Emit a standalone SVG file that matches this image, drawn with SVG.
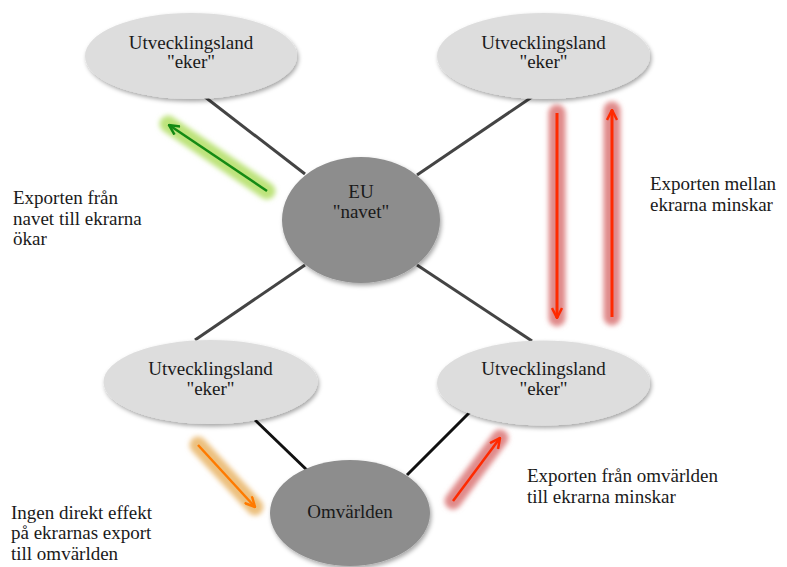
<svg xmlns="http://www.w3.org/2000/svg" width="787" height="567" viewBox="0 0 787 567">
<defs>
<style>
.t{font-family:"Liberation Serif","Times New Roman",serif;font-size:19px;fill:#1a1a1a}
.c{text-anchor:middle}
.light{fill:#dddddd;filter:url(#sh)}
.dark{fill:#8d8d8d;filter:url(#sh)}
.spoke{stroke:#444;stroke-width:3;fill:none}
.spokeb{stroke:#111;stroke-width:3;fill:none}
.glow{fill:none;stroke-width:17;stroke-linecap:round;filter:url(#bl)}
</style>
<filter id="sh" x="-20%" y="-20%" width="140%" height="150%">
<feDropShadow dx="1.5" dy="2.5" stdDeviation="2" flood-color="#000" flood-opacity="0.35"/>
</filter>
<filter id="bl" filterUnits="userSpaceOnUse" x="0" y="0" width="787" height="567">
<feGaussianBlur stdDeviation="2.5"/>
</filter>
<marker id="mg" viewBox="0 0 12 12" refX="11" refY="6" markerWidth="12" markerHeight="12" markerUnits="userSpaceOnUse" orient="auto">
<path d="M1,1 L11,6 L1,11" fill="none" stroke="#148a14" stroke-width="2.5"/>
</marker>
<marker id="mr" viewBox="0 0 12 12" refX="11" refY="6" markerWidth="12" markerHeight="12" markerUnits="userSpaceOnUse" orient="auto">
<path d="M1,1 L11,6 L1,11" fill="none" stroke="#ff2a00" stroke-width="2.5"/>
</marker>
<marker id="mo" viewBox="0 0 12 12" refX="11" refY="6" markerWidth="12" markerHeight="12" markerUnits="userSpaceOnUse" orient="auto">
<path d="M1,1 L11,6 L1,11" fill="none" stroke="#ff7a00" stroke-width="2.5"/>
</marker>
</defs>
<rect width="787" height="567" fill="#ffffff"/>
<g id="connectors">
<line class="spoke" x1="205" y1="97" x2="305" y2="174"/>
<line class="spoke" x1="532" y1="97" x2="417" y2="175"/>
<line class="spoke" x1="305" y1="265" x2="195" y2="340"/>
<line class="spoke" x1="417" y1="265" x2="532" y2="341"/>
<line class="spokeb" x1="255" y1="420" x2="310" y2="473"/>
<line class="spokeb" x1="470" y1="412" x2="407" y2="475"/>
</g>
<g id="arrows">
<line class="glow" stroke="#bde37a" x1="267" y1="191" x2="168" y2="124"/>
<line x1="267" y1="191" x2="169" y2="125" stroke="#148a14" stroke-width="2.5" marker-end="url(#mg)"/>
<line class="glow" stroke="#e08a8a" x1="557" y1="113" x2="557" y2="318"/>
<line x1="557" y1="113" x2="557" y2="318" stroke="#ff2a00" stroke-width="3" marker-end="url(#mr)"/>
<line class="glow" stroke="#e08a8a" x1="612" y1="317" x2="612" y2="110"/>
<line x1="612" y1="317" x2="612" y2="110" stroke="#ff2a00" stroke-width="3" marker-end="url(#mr)"/>
<line class="glow" stroke="#ecc07e" x1="198" y1="445" x2="255" y2="507"/>
<line x1="198" y1="445" x2="255" y2="507" stroke="#ff7a00" stroke-width="2.5" marker-end="url(#mo)"/>
<line class="glow" stroke="#e08a8a" x1="453" y1="501" x2="500" y2="438"/>
<line x1="453" y1="501" x2="500" y2="438" stroke="#ff2a00" stroke-width="2.5" marker-end="url(#mr)"/>
</g>
<g id="node-tl">
<ellipse class="light" cx="191" cy="56" rx="106" ry="43"/>
<text class="t c" x="191" y="49">Utvecklingsland</text>
<text class="t c" x="191" y="68">"eker"</text>
</g>
<g id="node-tr">
<ellipse class="light" cx="543.5" cy="56" rx="106.5" ry="43"/>
<text class="t c" x="543.5" y="49">Utvecklingsland</text>
<text class="t c" x="543.5" y="68">"eker"</text>
</g>
<g id="node-eu">
<ellipse class="dark" cx="361" cy="220" rx="79" ry="63"/>
<text class="t c" x="361" y="198">EU</text>
<text class="t c" x="361" y="218">"navet"</text>
</g>
<g id="node-bl">
<ellipse class="light" cx="210.5" cy="382" rx="107" ry="42"/>
<text class="t c" x="210.5" y="375">Utvecklingsland</text>
<text class="t c" x="210.5" y="395">"eker"</text>
</g>
<g id="node-br">
<ellipse class="light" cx="543.5" cy="383" rx="106.5" ry="42.5"/>
<text class="t c" x="543.5" y="375">Utvecklingsland</text>
<text class="t c" x="543.5" y="395">"eker"</text>
</g>
<g id="node-omv">
<ellipse class="dark" cx="350" cy="513" rx="80" ry="53"/>
<text class="t c" x="350" y="518">Omvärlden</text>
</g>
<g id="labels">
<text class="t" x="13" y="204">Exporten från</text>
<text class="t" x="13" y="225">navet till ekrarna</text>
<text class="t" x="13" y="245">ökar</text>
<text class="t" x="650" y="190">Exporten mellan</text>
<text class="t" x="650" y="211">ekrarna minskar</text>
<text class="t" x="11" y="519">Ingen direkt effekt</text>
<text class="t" x="11" y="539">på ekrarnas export</text>
<text class="t" x="11" y="560">till omvärlden</text>
<text class="t" x="527" y="482">Exporten från omvärlden</text>
<text class="t" x="527" y="503">till ekrarna minskar</text>
</g>
</svg>
